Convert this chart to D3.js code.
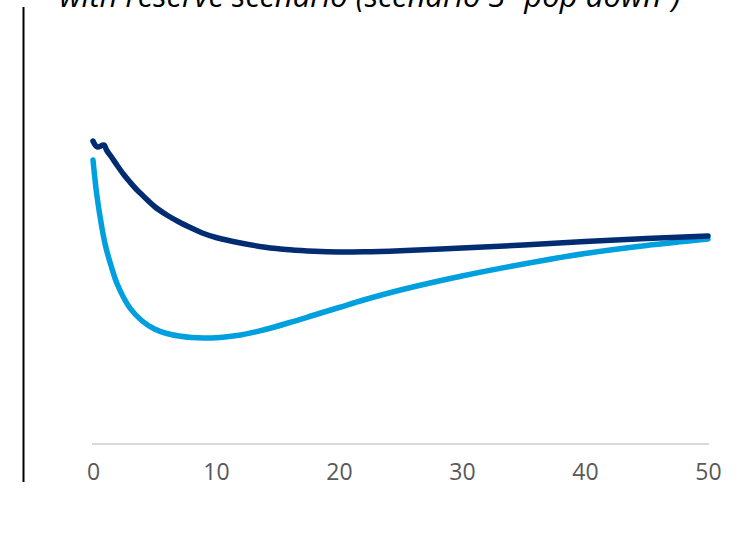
<!DOCTYPE html>
<html>
<head>
<meta charset="utf-8">
<script src="https://cdn.jsdelivr.net/npm/d3@7/dist/d3.min.js"></script>
<style>
  html, body { margin: 0; padding: 0; background: #ffffff; }
  svg { display: block; }
</style>
</head>
<body>
<script>
// Horizon in years and the two reserve paths (percent)
const baseYears = [0, 0.35, 0.9, 1.1, 1.5, 2, 2.5, 3, 3.5, 4, 5, 6, 7, 8, 9, 10, 12, 14, 16, 18, 20, 22, 25, 30, 35, 40, 45, 50];
const baselinePath = [3.03, 2.97, 2.99, 2.94, 2.87, 2.78, 2.695, 2.62, 2.55, 2.49, 2.375, 2.29, 2.22, 2.16, 2.105, 2.065, 2.01, 1.968, 1.942, 1.927, 1.92, 1.922, 1.933, 1.96, 1.99, 2.025, 2.055, 2.08];
const popDownYears = [0, 0.3, 0.7, 1, 1.5, 2, 3, 4, 5, 6, 7, 8, 9, 10, 12, 14, 16, 18, 20, 22, 25, 30, 35, 40, 45, 50];
const popDownPath = [2.84, 2.50, 2.18, 1.99, 1.77, 1.59, 1.36, 1.23, 1.15, 1.105, 1.08, 1.065, 1.06, 1.063, 1.09, 1.145, 1.215, 1.29, 1.365, 1.44, 1.54, 1.68, 1.80, 1.905, 1.985, 2.05];
const xTicks = [0, 10, 20, 30, 40, 50];
const titleText = "with reserve scenario (scenario 3 \u201cpop down\u201d)";

const W = 749, H = 555;
const svg = d3.select("body").append("svg").attr("width", W).attr("height", H);

const x = d3.scaleLinear().domain([0, 50]).range([93, 708]);
const y = d3.scaleLinear().domain([0, 4]).range([444, 44]);

// Title, partly above the top edge
svg.append("text")
  .attr("x", 370).attr("y", 7)
  .attr("text-anchor", "middle")
  .attr("font-family", "'Open Sans', sans-serif")
  .attr("font-style", "italic")
  .attr("font-size", 31)
  .attr("fill", "#000")
  .text(titleText);

// Left rule
svg.append("line")
  .attr("x1", 23.5).attr("x2", 23.5)
  .attr("y1", 7).attr("y2", 482)
  .attr("stroke", "#000").attr("stroke-width", 2);

// X axis
const xAxis = d3.axisBottom(x).tickValues(xTicks).tickSize(0).tickPadding(20);
const gx = svg.append("g").attr("transform", `translate(0,${y(0)})`).call(xAxis);
gx.select(".domain").attr("stroke", "#d9d9d9").attr("stroke-width", 2).attr("d", `M${x(0) - 1},0H${x(50) + 1}`);
gx.selectAll("text")
  .attr("font-family", "'Open Sans', sans-serif")
  .attr("font-size", 23)
  .attr("fill", "#595959");

const line = d3.line().curve(d3.curveCatmullRom.alpha(0.5));

svg.append("path")
  .attr("d", line(popDownYears.map((t, i) => [x(t), y(popDownPath[i])])))
  .attr("fill", "none")
  .attr("stroke", "#00A0DF")
  .attr("stroke-width", 5.5)
  .attr("stroke-linecap", "round")
  .attr("stroke-linejoin", "round");

svg.append("path")
  .attr("d", line(baseYears.map((t, i) => [x(t), y(baselinePath[i])])))
  .attr("fill", "none")
  .attr("stroke", "#002D72")
  .attr("stroke-width", 5.5)
  .attr("stroke-linecap", "round")
  .attr("stroke-linejoin", "round");
</script>
</body>
</html>
